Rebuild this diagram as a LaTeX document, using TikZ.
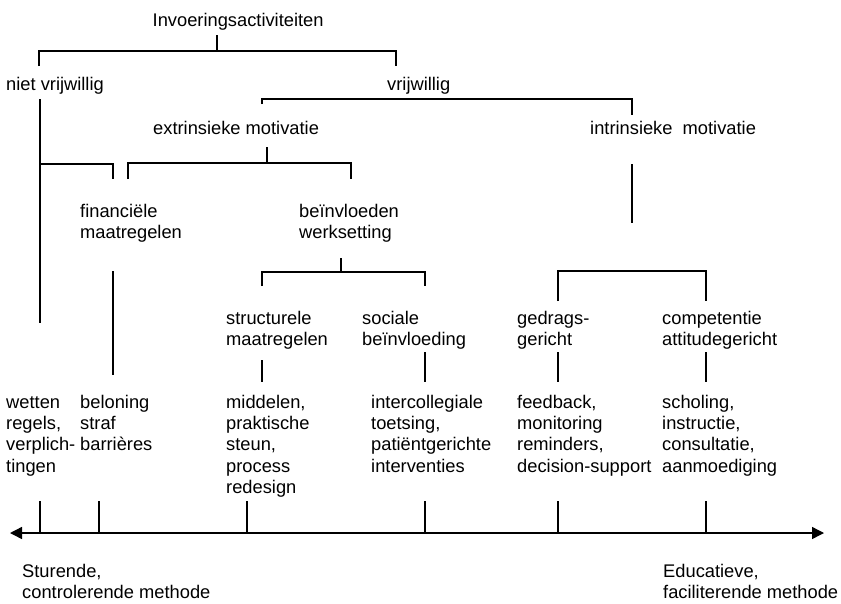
\documentclass[tikz,border=0pt]{standalone}
\usepackage{fontspec}
\setmainfont{Liberation Sans}
\usetikzlibrary{arrows.meta}
\begin{document}
\begin{tikzpicture}[x=1pt,y=-1pt,
  lbl/.style={anchor=base west,inner sep=0pt,align=left,font=\fontsize{18.3}{21.4}\selectfont},
  link/.style={line width=1.4pt},
  axisline/.style={line width=1.4pt,{Triangle[length=12pt,width=12pt]}-{Triangle[length=12pt,width=12pt]}}]
\useasboundingbox (0,0) rectangle (841,603);
\fill[white] (0,0) rectangle (841,603);

% labels are placed by the baseline of their last line

% ---- labels of the tree ----
\node[lbl] (root)  at (152.5,26.5) {Invoeringsactiviteiten};
\node[lbl] (nv)    at (6,90)    {niet vrijwillig};
\node[lbl] (vr)    at (387,90)  {vrijwillig};
\node[lbl] (ext)   at (153,134) {extrinsieke motivatie};
\node[lbl] (int)   at (590,134) {intrinsieke\ \ motivatie};
\node[lbl] (fin)   at (80,238.4)  {financiële\\maatregelen};
\node[lbl] (bei)   at (299,238.4) {beïnvloeden\\werksetting};
\node[lbl] (str)   at (226,345.4) {structurele\\maatregelen};
\node[lbl] (soc)   at (362,345.4) {sociale\\beïnvloeding};
\node[lbl] (ged)   at (517,345.4) {gedrags-\\gericht};
\node[lbl] (com)   at (662,345.4) {competentie\\attitudegericht};

% ---- examples ----
\node[lbl] (exnv)  at (6,472.2)   {wetten\\regels,\\verplich-\\tingen};
\node[lbl] (exfin) at (80,450.8)  {beloning\\straf\\barrières};
\node[lbl] (exstr) at (226,493.6) {middelen,\\praktische\\steun,\\process\\redesign};
\node[lbl] (exsoc) at (371,472.2) {intercollegiale\\toetsing,\\patiëntgerichte\\interventies};
\node[lbl] (exged) at (517,472.2) {feedback,\\monitoring\\reminders,\\decision-support};
\node[lbl] (excom) at (662,472.2) {scholing,\\instructie,\\consultatie,\\aanmoediging};

% ---- ends of the scale ----
\node[lbl] (lend)  at (22,598.9)  {Sturende,\\controlerende methode};
\node[lbl] (rend)  at (663,598.9) {Educatieve,\\faciliterende methode};

% ---- junction points ----
\coordinate (r0) at (217,35);   \coordinate (r1) at (217,51);
\coordinate (ra) at (39,66);    \coordinate (rb) at (396,66);
\coordinate (v0) at (262,104);  \coordinate (vt) at (447,99);  \coordinate (v1) at (632,115);
\coordinate (n0) at (40,99);    \coordinate (n1) at (40,323);
\coordinate (nb) at (40,164);   \coordinate (nf) at (113,179);
\coordinate (e0) at (267,147);  \coordinate (e1) at (267,163);
\coordinate (ea) at (128,179);  \coordinate (eb) at (351,179);
\coordinate (i0) at (632,164);  \coordinate (i1) at (632,223);
\coordinate (f0) at (113,271);  \coordinate (f1) at (113,375);
\coordinate (b0) at (341,258);  \coordinate (b1) at (341,272);
\coordinate (ba) at (262,286);  \coordinate (bb) at (425,286);
\coordinate (ia) at (558,301);  \coordinate (it) at (632,271); \coordinate (ib) at (706,301);
\coordinate (s0) at (262,360);  \coordinate (s1) at (262,382);
\coordinate (o0) at (425,352);  \coordinate (o1) at (425,382);
\coordinate (g0) at (558,352);  \coordinate (g1) at (558,382);
\coordinate (c0) at (706,352);  \coordinate (c1) at (706,382);

% ---- tree connectors ----
\draw[link] (r0) -- (r1);
\draw[link] (ra) |- (r1) -| (rb);
\draw[link] (v0) |- (vt) -| (v1);
\draw[link] (n0) -- (n1);
\draw[link] (nb) -| (nf);
\draw[link] (e0) -- (e1);
\draw[link] (ea) |- (e1) -| (eb);
\draw[link] (i0) -- (i1);
\draw[link] (f0) -- (f1);
\draw[link] (b0) -- (b1);
\draw[link] (ba) |- (b1) -| (bb);
\draw[link] (ia) |- (it) -| (ib);
\draw[link] (s0) -- (s1);
\draw[link] (o0) -- (o1);
\draw[link] (g0) -- (g1);
\draw[link] (c0) -- (c1);

% ---- scale with its ticks ----
\coordinate (al) at (10,533);   \coordinate (ar) at (824,533);
\draw[axisline] (al) -- (ar);
\foreach \tx [count=\k] in {40,99,247,425,558,706} {
  \coordinate (tick\k) at (\tx,501);
  \draw[link] (tick\k) -- (tick\k |- al);
}
\end{tikzpicture}
\end{document}
